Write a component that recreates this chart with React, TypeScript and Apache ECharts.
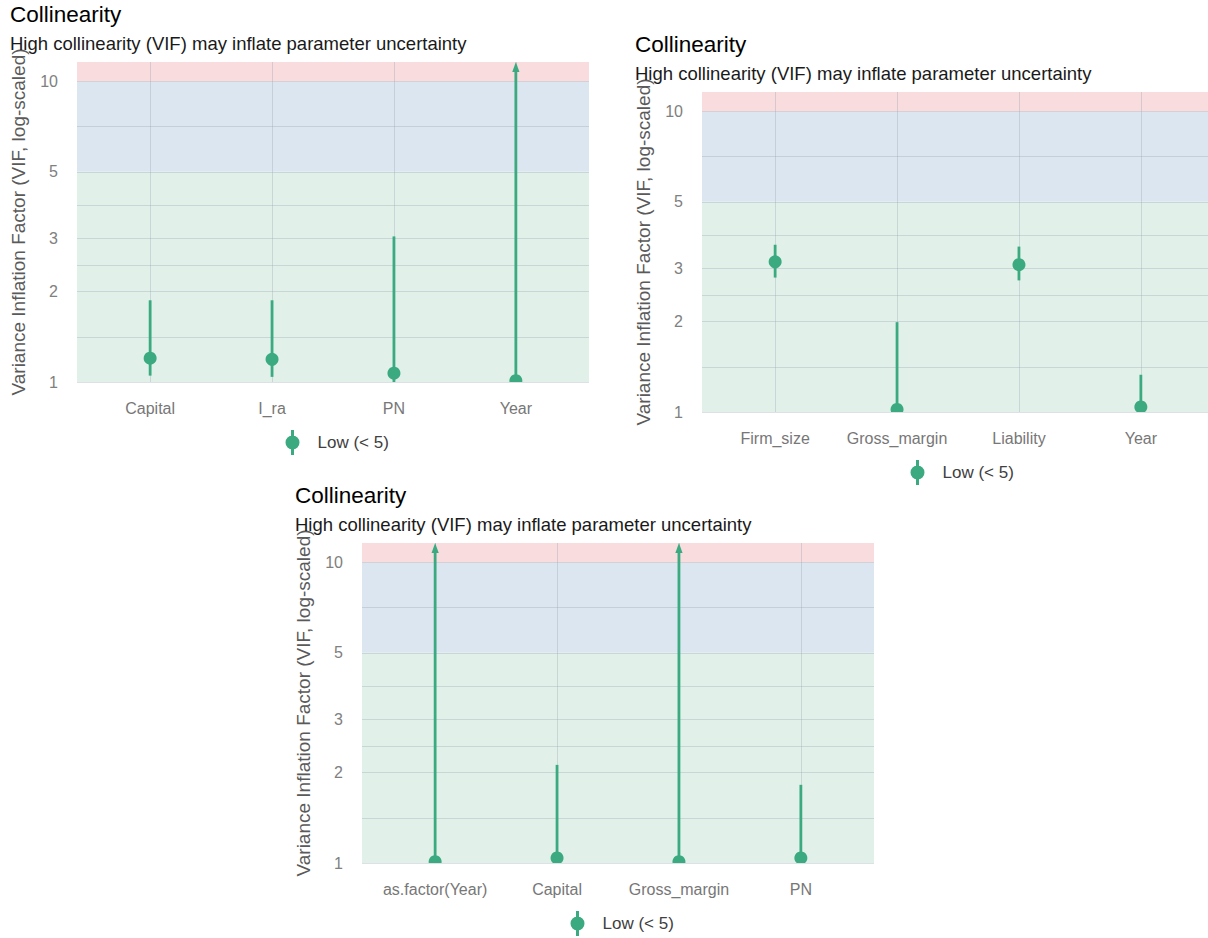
import React, { useEffect, useRef } from 'react';
import * as echarts from 'echarts';

// ---------- data ----------
const categories1 = ['Capital', 'I_ra', 'PN', 'Year'];
const vif1 = [1.2, 1.19, 1.07, 1.01];
const ciLow1 = [1.05, 1.04, 1.0, 1.0];
const ciHigh1 = [1.87, 1.87, 3.05, 25];

const categories2 = ['Firm_size', 'Gross_margin', 'Liability', 'Year'];
const vif2 = [3.16, 1.02, 3.09, 1.04];
const ciLow2 = [2.8, 1.0, 2.74, 1.0];
const ciHigh2 = [3.6, 1.99, 3.55, 1.33];

const categories3 = ['as.factor(Year)', 'Capital', 'Gross_margin', 'PN'];
const vif3 = [1.01, 1.04, 1.01, 1.04];
const ciLow3 = [1.0, 1.0, 1.0, 1.0];
const ciHigh3 = [25, 2.12, 25, 1.82];

const majorTicks = [1, 2, 3, 5, 10];
const minorTicks = [1.41, 2.45, 3.87, 7.07];
const Y_MIN = 1;
const Y_MAX = 11.6;
const X_MIN = 0.4;
const X_MAX = 4.6;

const TITLE = 'Collinearity';
const SUBTITLE = 'High collinearity (VIF) may inflate parameter uncertainty';
const Y_NAME = 'Variance Inflation Factor (VIF, log-scaled)';
const LEGEND_NAME = 'Low (< 5)';

// ---------- style ----------
const GREEN = '#3BAA80';
const BAND_LOW = '#E1F1EA';
const BAND_MID = '#DCE6F0';
const BAND_HIGH = '#F8DCDE';
const GRID_COLOR = 'rgba(150,160,172,0.32)';
const FONT = '"Liberation Sans", Arial, sans-serif';
const ICON =
  'path://M5.5,0 L8.5,0 L8.5,25 L5.5,25 Z M0,12.5 A7,7 0 1,1 14,12.5 A7,7 0 1,1 0,12.5 Z';

const panels = [
  { cats: categories1, vif: vif1, lo: ciLow1, hi: ciHigh1, left: 77, top: 62, tx: 10, ty: 3, lx: 285.5, ly: 430 },
  { cats: categories2, vif: vif2, lo: ciLow2, hi: ciHigh2, left: 702, top: 92, tx: 635, ty: 33, lx: 910.5, ly: 460 },
  { cats: categories3, vif: vif3, lo: ciLow3, hi: ciHigh3, left: 362, top: 543, tx: 295, ty: 484, lx: 570.5, ly: 911 },
];

function buildOption() {
  const grid: any[] = [];
  const xAxis: any[] = [];
  const yAxis: any[] = [];
  const series: any[] = [];
  const title: any[] = [];
  const legend: any[] = [];

  panels.forEach((p, i) => {
    grid.push({ left: p.left, top: p.top, width: 512, height: 320, containLabel: false, outerBoundsMode: 'none' });
    const positions = p.cats.map((_, j) => j + 1);
    xAxis.push({
      type: 'value',
      gridIndex: i,
      min: X_MIN,
      max: X_MAX,
      axisLine: { show: false },
      axisTick: { show: false, customValues: positions },
      axisLabel: {
        customValues: positions,
        formatter: (v: number) => p.cats[Math.round(v) - 1] ?? '',
        color: '#777777',
        fontSize: 16,
        margin: 18,
        fontFamily: FONT,
      },
      splitLine: { show: false },
    });
    yAxis.push({
      type: 'log',
      logBase: 10,
      gridIndex: i,
      min: Y_MIN,
      max: Y_MAX,
      name: Y_NAME,
      nameLocation: 'middle',
      nameRotate: 90,
      nameGap: 49,
      nameTextStyle: { color: '#5a5a5a', fontSize: 19, fontFamily: FONT },
      axisLine: { show: false },
      axisTick: { show: false },
      axisLabel: { show: false },
      splitLine: { show: false },
    });
    series.push({
      name: 'bands-' + i,
      type: 'line',
      xAxisIndex: i,
      yAxisIndex: i,
      data: [],
      silent: true,
      markArea: {
        silent: true,
        data: [
          [{ yAxis: 1, itemStyle: { color: BAND_LOW } }, { yAxis: 5 }],
          [{ yAxis: 5, itemStyle: { color: BAND_MID } }, { yAxis: 10 }],
          [{ yAxis: 10, itemStyle: { color: BAND_HIGH } }, { yAxis: Y_MAX }],
        ],
      },
    });
    series.push({
      name: 'grid-' + i,
      type: 'line',
      xAxisIndex: i,
      yAxisIndex: i,
      data: [],
      silent: true,
      markLine: {
        silent: true,
        symbol: ['none', 'none'],
        lineStyle: { color: GRID_COLOR, width: 1, type: 'solid' },
        label: {
          show: true,
          position: 'start',
          distance: 19,
          formatter: '{c}',
          color: '#808080',
          fontSize: 16,
          fontFamily: FONT,
        },
        emphasis: { disabled: true },
        data: [
          ...majorTicks.map((v) => ({ yAxis: v })),
          ...minorTicks.map((v) => ({ yAxis: v, label: { show: false } })),
          ...positions.map((v) => ({ xAxis: v, label: { show: false } })),
        ],
      },
    });
    series.push({
      name: LEGEND_NAME,
      type: 'custom',
      xAxisIndex: i,
      yAxisIndex: i,
      clip: true,
      z: 10,
      silent: true,
      itemStyle: { color: GREEN },
      encode: { x: 0, y: 1 },
      data: p.cats.map((_, j) => [j + 1, p.vif[j], p.lo[j], p.hi[j]]),
      renderItem: (params: any, api: any) => {
        const x = api.value(0);
        const v = api.value(1);
        const lo = api.value(2);
        const hi = api.value(3);
        const cs = params.coordSys;
        const pc = api.coord([x, v]);
        const pl = api.coord([x, lo]);
        const over = hi > Y_MAX;
        const ph = over ? [pc[0], cs.y] : api.coord([x, hi]);
        const children: any[] = [
          {
            type: 'line',
            shape: { x1: pl[0], y1: pl[1], x2: ph[0], y2: over ? ph[1] + 8 : ph[1] },
            style: { stroke: GREEN, lineWidth: 2.8 },
          },
          { type: 'circle', shape: { cx: pc[0], cy: pc[1], r: 6.5 }, style: { fill: GREEN } },
        ];
        if (over) {
          children.push({
            type: 'polygon',
            shape: { points: [[ph[0], ph[1]], [ph[0] - 3.6, ph[1] + 10], [ph[0] + 3.6, ph[1] + 10]] },
            style: { fill: GREEN },
          });
        }
        return { type: 'group', children };
      },
    });
    title.push({
      text: TITLE,
      left: p.tx,
      top: p.ty,
      padding: 0,
      textStyle: { fontSize: 22.5, fontWeight: 'normal', color: '#000000', fontFamily: FONT },
    });
    title.push({
      text: SUBTITLE,
      left: p.tx,
      top: p.ty + 31,
      padding: 0,
      textStyle: { fontSize: 18.5, fontWeight: 'normal', color: '#1a1a1a', fontFamily: FONT },
    });
    legend.push({
      left: p.lx,
      top: p.ly,
      padding: 0,
      itemWidth: 14,
      itemHeight: 25,
      selectedMode: false,
      textStyle: { fontSize: 17, color: '#404040', fontFamily: FONT, padding: [0, 0, 0, 13] },
      data: [{ name: LEGEND_NAME, icon: ICON }],
    });
  });

  return {
    animation: false,
    backgroundColor: '#ffffff',
    textStyle: { fontFamily: FONT },
    title,
    legend,
    grid,
    xAxis,
    yAxis,
    series,
  };
}

export default function App() {
  const ref = useRef<HTMLDivElement>(null);
  useEffect(() => {
    document.body.style.margin = '0';
    document.body.style.overflow = 'hidden';
    if (!ref.current) return;
    const chart = echarts.init(ref.current, null, { renderer: 'svg' });
    chart.setOption(buildOption() as any);
    return () => chart.dispose();
  }, []);
  return <div ref={ref} style={{ width: 1208, height: 938 }} />;
}
